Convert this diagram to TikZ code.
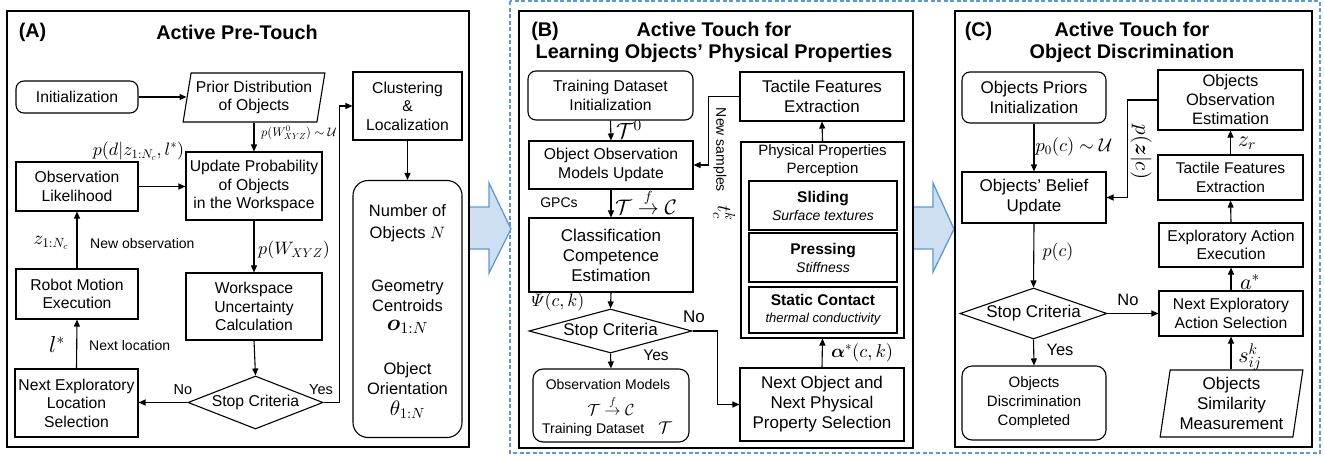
\documentclass[tikz,border=0pt]{standalone}
\usepackage{amsmath,bm}
\usepackage[no-math]{fontspec}
\setmainfont{Liberation Sans}
\DeclareFontShape{OT1}{cmr}{m}{n}{<-> cmr10}{}
\DeclareFontShape{OT1}{cmr}{bx}{n}{<-> cmbx10}{}
\DeclareFontShape{OML}{cmm}{m}{it}{<-> cmmi10}{}
\DeclareFontShape{OML}{cmm}{b}{it}{<-> cmmib10}{}
\DeclareFontShape{OMS}{cmsy}{m}{n}{<-> cmsy10}{}
\DeclareFontShape{OMS}{cmsy}{b}{n}{<-> cmbsy10}{}
\DeclareFontShape{OMX}{cmex}{m}{n}{<-> cmex10}{}
\usetikzlibrary{arrows.meta,shapes.geometric}
\definecolor{bluefill}{RGB}{206,223,242}
\definecolor{blueline}{RGB}{91,155,213}
\begin{document}
\begin{tikzpicture}[x=1pt,y=-1pt,
  fa/.style={font=\fontsize{15.7}{18.5}\selectfont},
  fb/.style={font=\fontsize{17}{20}\selectfont},
  fs/.style={font=\fontsize{14}{16}\selectfont},
  ttl/.style={font=\bfseries\fontsize{19.8}{22}\selectfont,align=center},
  box/.style={draw,line width=1.1pt,align=center,inner sep=1pt},
  rbox/.style={box,rounded corners=8pt},
  panel/.style={draw,line width=2pt,fill=white,inner sep=0pt},
  para/.style={box,trapezium,trapezium stretches=true,trapezium left angle=78,trapezium right angle=102},
  dia/.style={box,diamond,inner sep=0pt,aspect=2.5},
  arr/.style={-{Triangle[length=7pt,width=6pt]},line width=1.1pt},
  lbl/.style={inner sep=0pt},
  blk/.style={draw=blueline,fill=bluefill,line width=1.3pt,line join=miter}
]
\useasboundingbox (0,0) rectangle (1324,455);
% dashed frame and block arrows
\draw[blueline,line width=1.5pt,dash pattern=on 4pt off 2.5pt] (510,1) rectangle (1320,453);
\draw[blk] (462,207) -- (489,207) -- (489,183) -- (511,229) -- (489,273) -- (489,249) -- (462,249) -- cycle;
\draw[blk] (905,207) -- (933,207) -- (933,183) -- (954,229) -- (933,272) -- (933,249) -- (905,249) -- cycle;

% ================= Panel A
\node[panel,minimum width=462,minimum height=436] (panelA) at (238,229) {};
\node[ttl] (tagA) at (32.5,32) {(A)};
\node[ttl] (titleA) at (237,32) {Active Pre-Touch};
\node[rbox,fa,minimum width=122,minimum height=32] (init) at (77,97) {Initialization};
\node[para,fa,minimum width=142,minimum height=49] (prior) at (254,97.5) {Prior Distribution\\of Objects};
\node[box,fa,minimum width=109,minimum height=68] (clus) at (407.5,106) {Clustering\\\&\\Localization};
\node[box,fa,minimum width=136,minimum height=68] (upd) at (254,186) {Update Probability\\of Objects\\in the Workspace};
\node[box,fa,minimum width=122,minimum height=49] (obsl) at (77,186.5) {Observation\\Likelihood};
\node[box,rounded corners=15pt,minimum width=109,minimum height=257] (numobj) at (407.5,309) {};
\node[lbl,align=center,font=\fontsize{16.5}{21.5}\selectfont] (nobj) at (407.5,223) {Number of\\Objects $N$};
\node[lbl,align=center,font=\fontsize{16.5}{20}\selectfont] (geo) at (407.5,296) {Geometry\\Centroids};
\node[lbl,font=\fontsize{23}{24}\selectfont] (geom) at (407.5,327) {$\bm{o}_{1:N}$};
\node[lbl,align=center,font=\fontsize{16.5}{20}\selectfont] (ori) at (407.5,379) {Object\\Orientation};
\node[lbl,font=\fontsize{21}{24}\selectfont] (orim) at (407.5,410) {$\theta_{1:N}$};
\node[box,fa,minimum width=122,minimum height=50] (robot) at (77,294) {Robot Motion\\Execution};
\node[box,fa,minimum width=136,minimum height=67] (wsu) at (254,306.5) {Workspace\\Uncertainty\\Calculation};
\node[dia,fa,minimum width=135,minimum height=53] (stopA) at (255.5,402.5) {Stop Criteria};
\node[box,fa,minimum width=123,minimum height=68] (nextloc) at (76.5,403) {Next Exploratory\\Location\\Selection};

\draw[arr] (init.east) -- (init.east -| prior.west);
\draw[arr] (upd.north |- prior.south) -- (upd.north);
\draw[arr] (obsl.east) -- (obsl.east -| upd.west);
\draw[arr] (robot.north) -- (obsl.south);
\draw[arr] (upd.south) -- (wsu.north);
\draw[arr] (wsu.south) -- (stopA.north);
\draw[arr] (stopA.west) -- (stopA.west -| nextloc.east);
\draw[arr] (nextloc.north) -- (robot.south);
\draw[arr] (stopA.east) -- ++(16,0) |- (clus.west);
\draw[arr] (clus.south) -- (numobj.north);

\node[lbl,font=\fontsize{12.5}{14}\selectfont] (lA1) at (299,133) {$p(W^0_{XYZ})\sim\mathcal{U}$};
\node[lbl,font=\fontsize{18}{20}\selectfont] (lA2) at (138.5,151) {$p(d|z_{1:N_c},l^*)$};
\node[lbl,font=\fontsize{19}{20}\selectfont] (lA3) at (51,243) {$z_{1:N_c}$};
\node[lbl,fs,anchor=west] (lA4) at (90,243) {New observation};
\node[lbl,font=\fontsize{18}{20}\selectfont] (lA5) at (294,250) {$p(W_{XYZ})$};
\node[lbl,font=\fontsize{23}{24}\selectfont] (lA6) at (57,345) {$l^*$};
\node[lbl,fs,anchor=west] (lA7) at (89,345) {Next location};
\node[lbl,font=\fontsize{14.5}{16}\selectfont] (lA8) at (183,390) {No};
\node[lbl,font=\fontsize{14.5}{16}\selectfont] (lA9) at (321,390) {Yes};

% ================= Panel B
\node[panel,minimum width=394,minimum height=437] (panelB) at (716,229.5) {};
\node[ttl] (tagB) at (545,31) {(B)};
\node[ttl] (titleB) at (714,42) {Active Touch for\\Learning Objects’ Physical Properties};
\node[rbox,fa,minimum width=165,minimum height=49] (tdi) at (610.5,95.5) {Training Dataset\\Initialization};
\node[box,fa,minimum width=164,minimum height=48] (oomu) at (611,165) {Object Observation\\Models Update};
\node[box,fb,minimum width=164,minimum height=49] (tfe) at (822,96.5) {Tactile Features\\Extraction};
\node[box,minimum width=163,minimum height=196] (ppp) at (822.5,240) {};
\node[lbl,align=center,font=\fontsize{15}{18}\selectfont] (pppt) at (822.5,161) {Physical Properties\\Perception};
\node[box,font=\fontsize{15.5}{18}\selectfont,minimum width=148,minimum height=49] (sliding) at (823,205.5) {\textbf{Sliding}\\\fontsize{14}{17}\selectfont\itshape Surface textures};
\node[box,font=\fontsize{15.5}{18}\selectfont,minimum width=148,minimum height=49] (pressing) at (823,257.5) {\textbf{Pressing}\\\fontsize{14}{17}\selectfont\itshape Stiffness};
\node[box,font=\fontsize{15.5}{17}\selectfont,minimum width=148,minimum height=46] (static) at (823,310) {\textbf{Static Contact}\\\fontsize{13}{16}\selectfont\itshape thermal conductivity};
\node[box,fb,minimum width=164,minimum height=74] (cce) at (611,255) {Classification\\Competence\\Estimation};
\node[dia,fb,aspect=3.7,minimum width=163,minimum height=44] (stopB) at (610.5,331) {Stop Criteria};
\node[box,rounded corners=10pt,minimum width=156,minimum height=73] (obsm) at (611,405.5) {};
\node[lbl,font=\fontsize{14}{16}\selectfont] (obsm1) at (608,384) {Observation Models};
\node[lbl,font=\fontsize{16}{18}\selectfont] (obsm2) at (611,406) {$\mathcal{T}\stackrel{f}{\to}\mathcal{C}$};
\node[lbl,font=\fontsize{14}{16}\selectfont] (obsm3) at (607,429) {Training Dataset\quad{\fontsize{17}{18}\selectfont$\mathcal{T}$}};
\node[box,fb,minimum width=164,minimum height=73] (nops) at (822,404.5) {Next Object and\\Next Physical\\Property Selection};

\draw[arr] (tdi.south) -- (oomu.north);
\draw[arr] (tfe.west) -- ++(-31,0) |- (oomu.east);
\draw[arr] (ppp.north) -- (tfe.south);
\draw[arr] (oomu.south) -- (cce.north);
\draw[arr] (cce.south) -- (stopB.north);
\draw[arr] (stopB.south) -- (obsm.north);
\draw[arr] (stopB.east) -- ++(25,0) |- (nops.west);
\draw[arr] (nops.north) -- (ppp.south);

\node[lbl,font=\fontsize{22}{24}\selectfont] (lB1) at (629,130) {$\mathcal{T}^0$};
\node[lbl,fs] (lB2) at (559,203) {GPCs};
\node[lbl,font=\fontsize{21}{24}\selectfont] (lB3) at (646,202) {$\mathcal{T}\stackrel{f}{\to}\mathcal{C}$};
\node[lbl,fs,rotate=-90] (lB4) at (720,150) {New samples};
\node[lbl,font=\fontsize{20}{22}\selectfont,rotate=-90] (lB5) at (724,213) {$t_c^k$};
\node[lbl,font=\fontsize{18}{20}\selectfont] (lB6) at (558,302) {$\varPsi(c,k)$};
\node[lbl,fb] (lB7) at (694,317) {No};
\node[lbl,font=\fontsize{15.5}{17}\selectfont] (lB8) at (656,355) {Yes};
\node[lbl,font=\fontsize{18.5}{20}\selectfont] (lB9) at (862,353) {$\bm{\alpha}^*(c,k)$};

% ================= Panel C
\node[panel,minimum width=357,minimum height=436] (panelC) at (1133.5,229) {};
\node[ttl] (tagC) at (978.5,31) {(C)};
\node[ttl] (titleC) at (1132,42) {Active Touch for\\Object Discrimination};
\node[rbox,fb,minimum width=144,minimum height=51] (opi) at (1034,97.5) {Objects Priors\\Initialization};
\node[box,fb,minimum width=144,minimum height=51] (bel) at (1034,197.5) {Objects’ Belief\\Update};
\node[box,font=\fontsize{16.5}{19}\selectfont,minimum width=145,minimum height=60] (oest) at (1230.5,100) {Objects\\Observation\\Estimation};
\node[box,font=\fontsize{15.5}{19}\selectfont,minimum width=145,minimum height=45] (tfeC) at (1230.5,177.5) {Tactile Features\\Extraction};
\node[box,fa,minimum width=144,minimum height=44] (eae) at (1231,245) {Exploratory Action\\Execution};
\node[box,fa,minimum width=144,minimum height=45] (neas) at (1231,313.5) {Next Exploratory\\Action Selection};
\node[para,fb,trapezium left angle=81,trapezium right angle=99,minimum width=143,minimum height=67] (osm) at (1231.5,403.5) {Objects\\Similarity\\Measurement};
\node[dia,fb,aspect=2.9,minimum width=147,minimum height=51] (stopC) at (1033.5,313.5) {Stop Criteria};
\node[rbox,font=\fontsize{15}{19}\selectfont,rounded corners=10pt,minimum width=144,minimum height=74] (odc) at (1034,403) {Objects\\Discrimination\\Completed};

\draw[arr] (opi.south) -- (bel.north);
\draw[arr] (oest.west) -- ++(-30,0) |- (bel.east);
\draw[arr] (tfeC.north) -- (oest.south);
\draw[arr] (eae.north) -- (tfeC.south);
\draw[arr] (neas.north) -- (eae.south);
\draw[arr] (neas.south |- osm.north) -- (neas.south);
\draw[arr] (bel.south) -- (stopC.north);
\draw[arr] (stopC.east) -- (neas.west);
\draw[arr] (stopC.south) -- (odc.north);

\node[lbl,font=\fontsize{18.5}{20}\selectfont] (lC1) at (1074,147) {$p_0(c)\sim\mathcal{U}$};
\node[lbl,font=\fontsize{21}{24}\selectfont,rotate=-90] (lC2) at (1141,152) {$p(\bm{z}|c)$};
\node[lbl,font=\fontsize{22}{24}\selectfont] (lC3) at (1247,143) {$z_r$};
\node[lbl,font=\fontsize{22}{24}\selectfont] (lC4) at (1250,282) {$a^*$};
\node[lbl,font=\fontsize{22}{24}\selectfont] (lC5) at (1250,357) {$s^k_{ij}$};
\node[lbl,font=\fontsize{18}{20}\selectfont] (lC6) at (1058,252) {$p(c)$};
\node[lbl,font=\fontsize{16.5}{18}\selectfont] (lC7) at (1128,300) {No};
\node[lbl,font=\fontsize{16.5}{18}\selectfont] (lC8) at (1060,350) {Yes};
\end{tikzpicture}
\end{document}
